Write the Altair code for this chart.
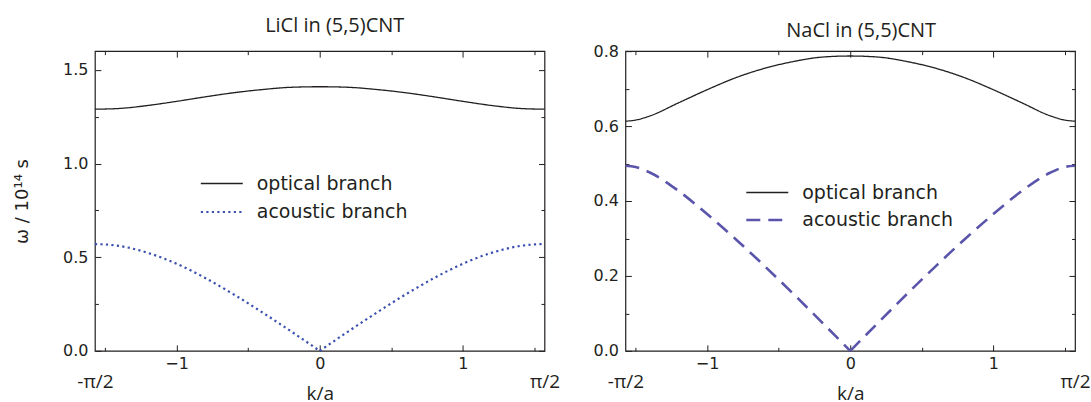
import altair as alt
import pandas as pd

# ---------------- data ----------------
SERIES = ["optical branch", "acoustic branch"]
k_vals = [-1.5708, -1.5, -1.4, -1.2, -1.0, -0.8, -0.6, -0.4, -0.2, 0.0,
          0.2, 0.4, 0.6, 0.8, 1.0, 1.2, 1.4, 1.5, 1.5708]

licl_optical = [1.290, 1.291, 1.294, 1.310, 1.332, 1.356, 1.378, 1.395, 1.407, 1.410,
                1.407, 1.395, 1.378, 1.356, 1.332, 1.310, 1.294, 1.291, 1.290]
licl_acoustic = [0.570, 0.568, 0.560, 0.523, 0.465, 0.389, 0.301, 0.205, 0.104, 0.0,
                 0.104, 0.205, 0.301, 0.389, 0.465, 0.523, 0.560, 0.568, 0.570]

nacl_optical = [0.613, 0.616, 0.627, 0.662, 0.697, 0.729, 0.754, 0.772, 0.784, 0.787,
                0.784, 0.772, 0.754, 0.729, 0.697, 0.662, 0.627, 0.616, 0.613]
nacl_acoustic = [0.494, 0.491, 0.476, 0.427, 0.365, 0.298, 0.227, 0.153, 0.077, 0.0,
                 0.077, 0.153, 0.227, 0.298, 0.365, 0.427, 0.476, 0.491, 0.494]

x_label_ticks = [-1, 0, 1]
x_all_ticks = [-1.5, -1, -0.5, 0, 0.5, 1, 1.5]
x_edge_ticks = [-1.5708, 1.5708]
licl_y_labels = [0.0, 0.5, 1.0, 1.5]
licl_y_ticks = [0.0, 0.25, 0.5, 0.75, 1.0, 1.25, 1.5]
nacl_y_labels = [0.0, 0.2, 0.4, 0.6, 0.8]
nacl_y_ticks = [0.0, 0.1, 0.2, 0.3, 0.4, 0.5, 0.6, 0.7, 0.8]

INK = "#231f20"
W, H = 450, 300
# legend line symbol: a path twice as wide as its nominal box, so the
# entry height stays small while the drawn line is ~42 px long
LEG_SYMBOL = "M-2,0H2"
LEG_SIZE = 441


def make_df(opt, ac):
    rows = []
    for k, w in zip(k_vals, opt):
        rows.append({"k": k, "omega": w, "branch": SERIES[0], "part": "o"})
    for k, w in zip(k_vals, ac):
        if k <= 0:
            rows.append({"k": k, "omega": w, "branch": SERIES[1], "part": "L"})
        if k >= 0:
            rows.append({"k": k, "omega": w, "branch": SERIES[1], "part": "R"})
    return pd.DataFrame(rows)


def panel(df, ymax, y_labels, y_ticks, minor_mult, ac_color, ac_dash, ac_width,
          title, title_dx, title_dy, ytitle, leg_x, leg_y, row_pad):
    xs = alt.Scale(domain=[-1.5708, 1.5708], nice=False, zero=False)
    ys = alt.Scale(domain=[0, ymax], nice=False, zero=False)

    xtick_size = {"condition": {"test": "abs(datum.value - round(datum.value)) < 0.01", "value": 6}, "value": 3.5}
    ytick_size = {"condition": {"test": f"abs(datum.value*{minor_mult} - round(datum.value*{minor_mult})) < 0.01", "value": 6}, "value": 3.5}

    leg = alt.Legend(orient="none", legendX=leg_x, legendY=leg_y, title=None,
                     symbolType=LEG_SYMBOL, symbolSize=LEG_SIZE, symbolFillColor="transparent",
                     labelFont="DejaVu Sans",
                     labelFontSize=19, labelColor=INK, labelOffset=23, padding=0,
                     rowPadding=row_pad)

    y_axis_main = dict(orient="left", values=y_labels, format=".1f", ticks=False, domain=False,
                       labelFont="DejaVu Sans", labelFontSize=16, labelColor=INK,
                       labelPadding=7, grid=False)
    if ytitle:
        y_axis_main.update(title=ytitle, titleFont="DejaVu Sans", titleFontSize=18,
                           titleFontWeight="normal", titleColor=INK, titleX=-72,
                           titleY=H / 2, titleAlign="center", titleBaseline="middle",
                           titleAngle=270)
    else:
        y_axis_main.update(title=None)

    main = alt.Chart(df).mark_line(interpolate="monotone").encode(
        x=alt.X("k:Q", scale=xs, axis=alt.Axis(
            orient="bottom", values=x_label_ticks, ticks=False, domain=False,
            labelFont="DejaVu Sans", labelFontSize=16, labelColor=INK, labelPadding=5,
            grid=False, title="k/a", titleFont="Open Sans", titleFontSize=19,
            titleFontWeight="normal", titleColor=INK, titlePadding=13)),
        y=alt.Y("omega:Q", scale=ys, axis=alt.Axis(**y_axis_main)),
        color=alt.Color("branch:N", scale=alt.Scale(domain=SERIES, range=[INK, ac_color]), legend=leg),
        strokeDash=alt.StrokeDash("branch:N", scale=alt.Scale(domain=SERIES, range=[[1, 0], ac_dash]), legend=leg),
        strokeWidth=alt.StrokeWidth("branch:N", scale=alt.Scale(domain=SERIES, range=[1.3, ac_width]), legend=leg),
        detail="part:N",
    )

    # inward ticks on bottom and left edges
    ticks_bl = alt.Chart(df).mark_line(strokeOpacity=0).encode(
        x=alt.X("k:Q", scale=xs, axis=alt.Axis(
            orient="top", offset=-H, values=x_all_ticks, tickSize=xtick_size,
            tickColor=INK, tickWidth=1, labels=False, domain=False, grid=False, title=None)),
        y=alt.Y("omega:Q", scale=ys, axis=alt.Axis(
            orient="right", offset=-W, values=y_ticks, tickSize=ytick_size,
            tickColor=INK, tickWidth=1, labels=False, domain=False, grid=False, title=None)),
    )
    # inward ticks on top and right edges
    ticks_tr = alt.Chart(df).mark_line(strokeOpacity=0).encode(
        x=alt.X("k:Q", scale=xs, axis=alt.Axis(
            orient="bottom", offset=-H, values=x_all_ticks, tickSize=xtick_size,
            tickColor=INK, tickWidth=1, labels=False, domain=False, grid=False, title=None)),
        y=alt.Y("omega:Q", scale=ys, axis=alt.Axis(
            orient="left", offset=-W, values=y_ticks, tickSize=ytick_size,
            tickColor=INK, tickWidth=1, labels=False, domain=False, grid=False, title=None)),
    )
    # -pi/2 and pi/2 labels
    edge = alt.Chart(df).mark_line(strokeOpacity=0).encode(
        x=alt.X("k:Q", scale=xs, axis=alt.Axis(
            orient="bottom", values=x_edge_ticks, ticks=False, domain=False, grid=False,
            labelExpr="datum.value < 0 ? '-π/2' : 'π/2'", labelFont="Open Sans",
            labelFontSize=19, labelColor=INK, labelPadding=22, labelFlush=False,
            labelOverlap=False, labelBound=False, title=None)),
        y=alt.Y("omega:Q", scale=ys, axis=None),
    )

    return alt.layer(main, ticks_bl, ticks_tr, edge).resolve_axis(
        x="independent", y="independent"
    ).properties(
        width=W, height=H,
        title=alt.Title(title, font="Open Sans", fontSize=20, fontWeight="normal",
                        color=INK, anchor="middle", dx=title_dx, dy=title_dy, offset=0,
                        frame="group", baseline="alphabetic"),
    )


left = panel(make_df(licl_optical, licl_acoustic), 1.6, licl_y_labels, licl_y_ticks, 2,
             "#3b50b0", [2.2, 3.3], 2.2, "LiCl in (5,5)CNT", 15, 1, "ω / 10¹⁴ s",
             115, 121, 6)
right = panel(make_df(nacl_optical, nacl_acoustic), 0.8, nacl_y_labels, nacl_y_ticks, 5,
              "#5a55ab", [14, 8], 2.6, "NaCl in (5,5)CNT", 11, 14, None,
              130, 130, 5)

chart = alt.hconcat(left, right, spacing=81, bounds="flush").resolve_scale(
    color="independent", strokeDash="independent", strokeWidth="independent"
).resolve_legend(
    color="independent", strokeDash="independent", strokeWidth="independent"
).properties(
    padding={"left": 13, "top": 14, "right": 0, "bottom": 0},
    background="white",
).configure_view(stroke=INK, strokeWidth=1.2)

chart.save("out.html", embed_options={"renderer": "svg", "actions": False})
